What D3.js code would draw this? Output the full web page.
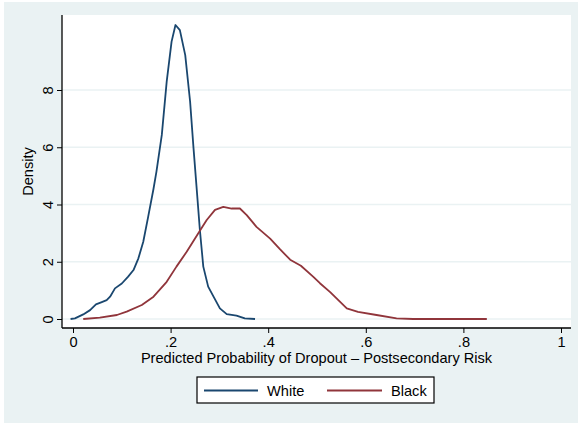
<!DOCTYPE html>
<html>
<head>
<meta charset="utf-8">
<script src="https://cdn.jsdelivr.net/npm/d3@7"></script>
<style>
  html, body { margin: 0; padding: 0; background: #ffffff; }
  svg { display: block; }
  text { font-family: "Liberation Sans", Arial, Helvetica, sans-serif; fill: #000; }
</style>
</head>
<body>
<svg id="chart" width="578" height="423"></svg>
<script>
// Kernel density estimates of predicted dropout probability, by group
const whiteX = [-0.005, 0.004, 0.021, 0.035, 0.047, 0.059, 0.069, 0.076, 0.086, 0.100, 0.113, 0.124, 0.134, 0.144, 0.154, 0.165, 0.171, 0.182, 0.192, 0.202, 0.210, 0.219, 0.230, 0.240, 0.247, 0.253, 0.260, 0.267, 0.277, 0.288, 0.301, 0.315, 0.335, 0.352, 0.373];
const whiteY = [0.00, 0.02, 0.16, 0.31, 0.51, 0.59, 0.66, 0.78, 1.07, 1.24, 1.48, 1.71, 2.12, 2.70, 3.57, 4.55, 5.15, 6.43, 8.29, 9.69, 10.27, 10.09, 9.22, 7.59, 5.96, 4.65, 3.11, 1.83, 1.13, 0.78, 0.37, 0.17, 0.12, 0.02, 0.00];

const blackX = [0.021, 0.055, 0.090, 0.110, 0.141, 0.165, 0.192, 0.212, 0.233, 0.260, 0.274, 0.291, 0.308, 0.325, 0.342, 0.356, 0.376, 0.404, 0.424, 0.445, 0.467, 0.492, 0.506, 0.527, 0.561, 0.584, 0.622, 0.663, 0.697, 0.848];
const blackY = [0.00, 0.05, 0.14, 0.26, 0.49, 0.78, 1.30, 1.83, 2.35, 3.08, 3.46, 3.81, 3.92, 3.86, 3.86, 3.63, 3.22, 2.81, 2.44, 2.07, 1.86, 1.48, 1.25, 0.94, 0.37, 0.25, 0.14, 0.02, 0.00, 0.00];

const xTicks = [0, 0.2, 0.4, 0.6, 0.8, 1];
const xTickLabels = ["0", ".2", ".4", ".6", ".8", "1"];
const yTicks = [0, 2, 4, 6, 8];
const seriesNames = ["White", "Black"];
const seriesColors = ["#1a476f", "#90353b"];

const fontSize = 14.6;
const svg = d3.select("#chart");

// graph region background
svg.append("rect").attr("x", 4).attr("y", 2).attr("width", 574).attr("height", 421).attr("fill", "#eaf2f3");

// plot region
const plot = { left: 62, right: 571, top: 15, bottom: 328 };
svg.append("rect")
  .attr("x", plot.left).attr("y", plot.top)
  .attr("width", plot.right - plot.left).attr("height", plot.bottom - plot.top)
  .attr("fill", "#ffffff");

const x = d3.scaleLinear().domain([0, 1]).range([73, 561]);
const y = d3.scaleLinear().domain([0, 8]).range([319, 90]);

// horizontal grid lines
svg.append("g").selectAll("line").data(yTicks).join("line")
  .attr("x1", plot.left).attr("x2", plot.right)
  .attr("y1", d => y(d)).attr("y2", d => y(d))
  .attr("stroke", "#eaf2f3").attr("stroke-width", 1.5);

// density curves
const line = d3.line().x(d => x(d[0])).y(d => y(d[1]));
const series = [
  d3.zip(whiteX, whiteY),
  d3.zip(blackX, blackY)
];
series.forEach((pts, i) => {
  svg.append("path").datum(pts)
    .attr("d", line)
    .attr("fill", "none")
    .attr("stroke", seriesColors[i])
    .attr("stroke-width", 1.8)
    .attr("stroke-linejoin", "round");
});

// x axis
const xAxis = d3.axisBottom(x).tickValues(xTicks)
  .tickFormat((d, i) => xTickLabels[i]).tickSize(5).tickPadding(4);
const gx = svg.append("g").attr("transform", `translate(0,${plot.bottom})`).call(xAxis);
gx.select(".domain").attr("d", `M${plot.left},0H${plot.right}`).attr("stroke", "#000").attr("stroke-width", 1.3);
gx.selectAll(".tick line").attr("stroke", "#000").attr("stroke-width", 1);
gx.selectAll(".tick text").attr("font-size", fontSize).attr("font-family", "Liberation Sans, Arial, sans-serif").attr("fill", "#000");

// y axis
const yAxis = d3.axisLeft(y).tickValues(yTicks).tickSize(5).tickPadding(0).tickFormat(d3.format("d"));
const gy = svg.append("g").attr("transform", `translate(${plot.left},0)`).call(yAxis);
gy.select(".domain").attr("d", `M0,${plot.top}V${plot.bottom}`).attr("stroke", "#000").attr("stroke-width", 1.3);
gy.selectAll(".tick line").attr("stroke", "#000").attr("stroke-width", 1);
gy.selectAll(".tick text")
  .attr("x", null)
  .attr("font-size", fontSize).attr("font-family", "Liberation Sans, Arial, sans-serif").attr("fill", "#000")
  .attr("text-anchor", "middle")
  .attr("transform", "translate(-14,0) rotate(-90)")
  .attr("dy", "0.35em");

// axis titles
svg.append("text")
  .attr("x", (plot.left + plot.right) / 2).attr("y", 363)
  .attr("text-anchor", "middle").attr("font-size", fontSize)
  .text("Predicted Probability of Dropout \u2013 Postsecondary Risk");

svg.append("text")
  .attr("transform", `translate(33,${(plot.top + plot.bottom) / 2}) rotate(-90)`)
  .attr("text-anchor", "middle").attr("font-size", fontSize)
  .text("Density");

// legend
const legend = svg.append("g");
legend.append("rect").attr("x", 197).attr("y", 377).attr("width", 237).attr("height", 26)
  .attr("fill", "#ffffff").attr("stroke", "#000").attr("stroke-width", 1.2);
const legendItems = [
  { x1: 204, x2: 258, tx: 267 },
  { x1: 327, x2: 382, tx: 391 }
];
legendItems.forEach((it, i) => {
  legend.append("line").attr("x1", it.x1).attr("x2", it.x2).attr("y1", 390.5).attr("y2", 390.5)
    .attr("stroke", seriesColors[i]).attr("stroke-width", 1.8);
  legend.append("text").attr("x", it.tx).attr("y", 395.5).attr("font-size", fontSize).text(seriesNames[i]);
});
</script>
</body>
</html>
